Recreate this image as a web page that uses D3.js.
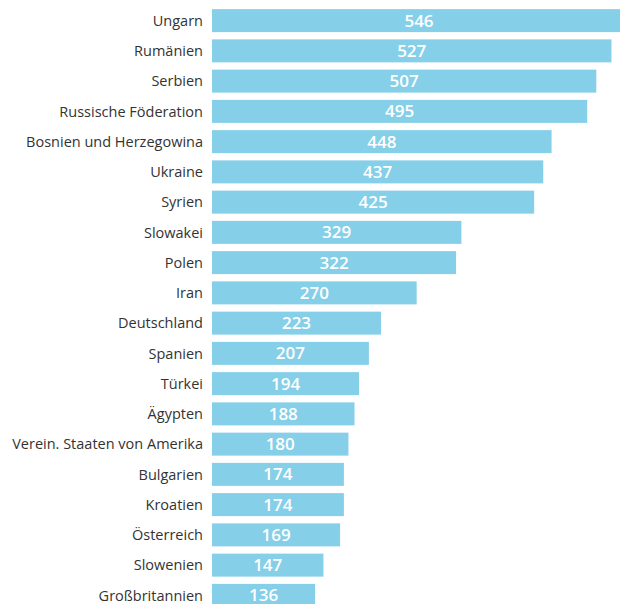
<!DOCTYPE html>
<html><head><meta charset="utf-8">
<script src="https://cdn.jsdelivr.net/npm/d3@7"></script>
<style>
html,body{margin:0;padding:0;background:#fff;overflow:hidden}
</style>
</head><body>
<svg id="chart" width="620" height="604"></svg>
<script>
const categories = ["Ungarn","Rumänien","Serbien","Russische Föderation","Bosnien und Herzegowina","Ukraine","Syrien","Slowakei","Polen","Iran","Deutschland","Spanien","Türkei","Ägypten","Verein. Staaten von Amerika","Bulgarien","Kroatien","Österreich","Slowenien","Großbritannien"];
const values = [546,527,507,495,448,437,425,329,322,270,223,207,194,188,180,174,174,169,147,136];

const svg = d3.select("#chart");
const x = d3.scaleLinear().domain([0, 600]).range([212, 212 + 600*0.758]);
const y = d3.scaleBand().domain(categories).range([5.5, 5.5 + 30.25*20]).paddingInner(0.24).paddingOuter(0.12);

svg.selectAll("rect.bar").data(values).join("rect")
  .attr("class","bar")
  .attr("x", x(0))
  .attr("y", (d,i)=>y(categories[i]))
  .attr("width", d=>x(d)-x(0))
  .attr("height", y.bandwidth())
  .attr("fill","#86cfe8");

svg.selectAll("text.val").data(values).join("text")
  .attr("class","val")
  .attr("x", d=>(x(0)+Math.min(x(d),620))/2 + (x(d)>620?3:0))
  .attr("y", (d,i)=>y(categories[i])+y.bandwidth()/2)
  .attr("dy","0.36em")
  .attr("text-anchor","middle")
  .attr("fill","#fff")
  .style("font-family","'Open Sans', sans-serif")
  .style("font-weight","600")
  .style("font-size","17px")
  .text(d=>d);

svg.selectAll("text.cat").data(categories).join("text")
  .attr("class","cat")
  .attr("x", 203)
  .attr("y", d=>y(d)+y.bandwidth()/2)
  .attr("dy","0.36em")
  .attr("text-anchor","end")
  .attr("fill","#333")
  .style("font-family","'Open Sans', sans-serif")
  .style("font-size","14.5px")
  .text(d=>d);
</script>
</body></html>
